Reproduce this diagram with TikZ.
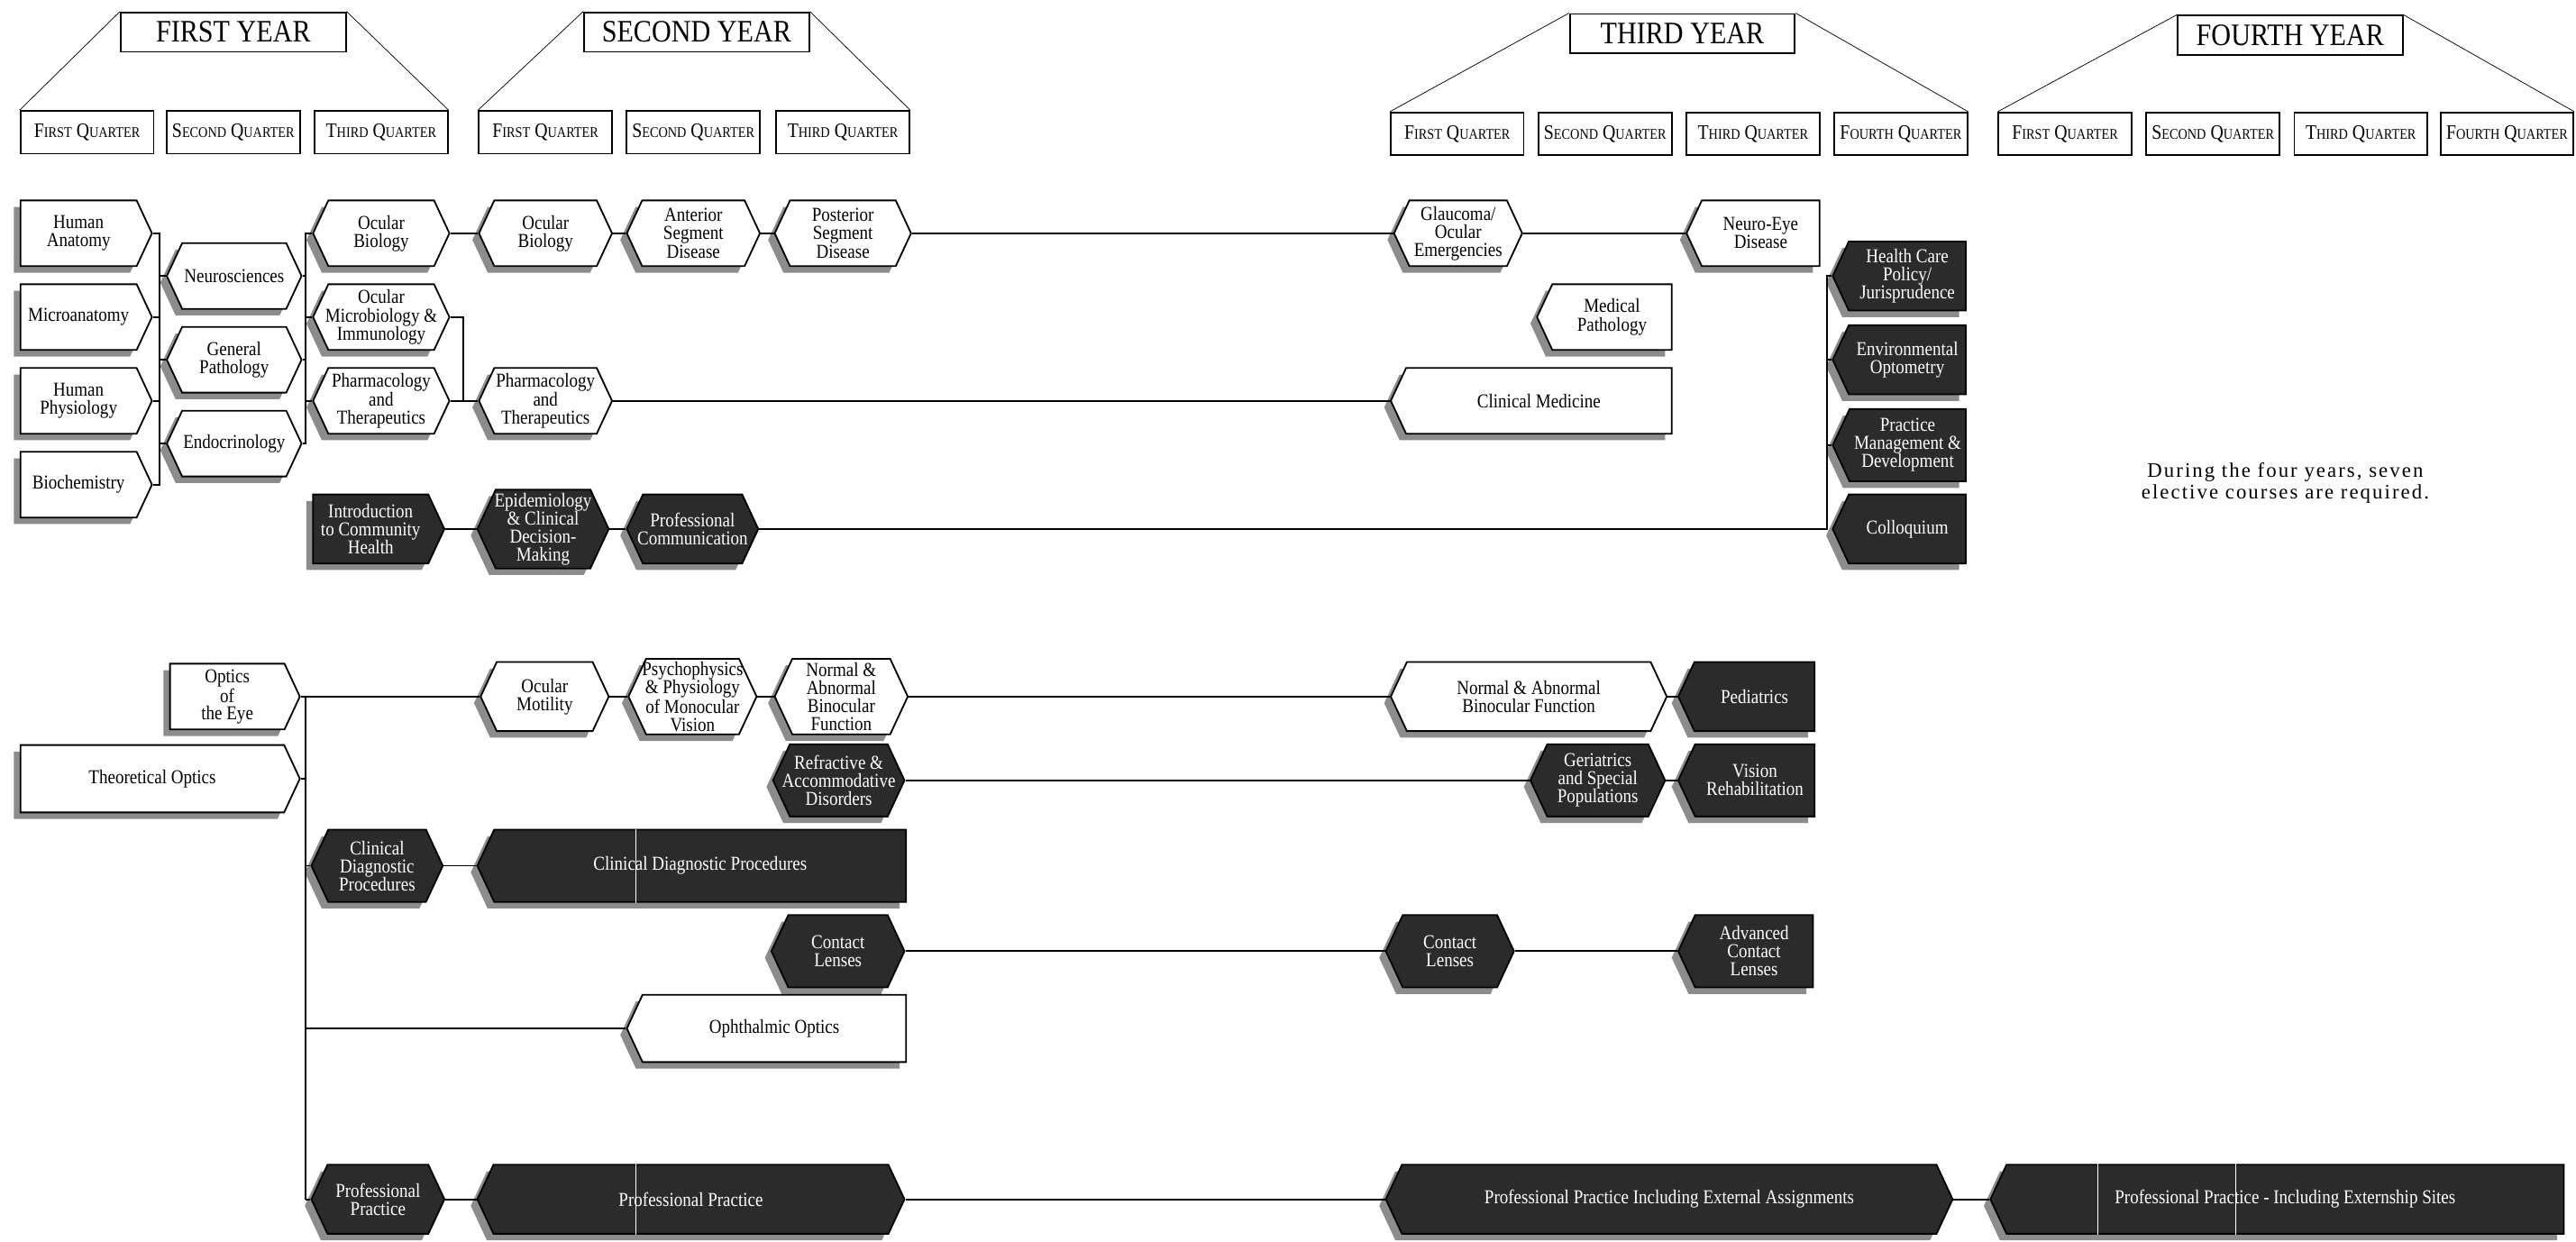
\documentclass[tikz,border=0pt]{standalone}
\usepackage{fontspec}
\setmainfont{Liberation Serif}[FakeStretch=0.87]
\newfontfamily\notefont{Liberation Serif}[LetterSpace=9]
\usetikzlibrary{positioning,shapes.symbols,shadows}
\definecolor{inkdark}{gray}{0.17}
\definecolor{shadowgray}{gray}{0.55}
\newcommand{\qname}[2]{#1{\fontsize{9}{10}\selectfont #2}}

\begin{document}
\begin{tikzpicture}[
    x=1pt, y=-1pt,
    every node/.style={align=center},
    course/.style={shape=signal, signal pointer angle=130, draw, line width=1pt,
        fill=white, anchor=west, inner xsep=-6pt, inner ysep=0pt,
        minimum height=40, font=\fontsize{12}{11}\selectfont,
        drop shadow={shadow xshift=-4pt, shadow yshift=-4pt, fill=shadowgray, opacity=1}},
    dark/.style={course, fill=inkdark, text=white},
    arrowR/.style={signal to=east},
    arrowL/.style={signal to=west},
    hexa/.style={signal to=east and west},
    qbox/.style={draw, line width=1pt, anchor=north west, minimum width=81,
        minimum height=26, inner sep=0pt, font=\fontsize{12.5}{13}\selectfont},
    yearbox/.style={draw, line width=1pt, anchor=north west, minimum width=137,
        minimum height=24, inner sep=0pt, font=\fontsize{19}{20}\selectfont},
    link/.style={line width=1pt},
    seam/.style={white, line width=0.6pt}
]
\useasboundingbox (0,0) rectangle (1568,756);

\node[yearbox] (yr1) at (73,7) {FIRST YEAR};
\node[qbox] (q11) at (12,67) {\qname{F}{IRST} \qname{Q}{UARTER}};
\node[qbox] (q12) at (101,67) {\qname{S}{ECOND} \qname{Q}{UARTER}};
\node[qbox] (q13) at (191,67) {\qname{T}{HIRD} \qname{Q}{UARTER}};
\node[yearbox] (yr2) at (355,7) {SECOND YEAR};
\node[qbox] (q21) at (291,67) {\qname{F}{IRST} \qname{Q}{UARTER}};
\node[qbox] (q22) at (381,67) {\qname{S}{ECOND} \qname{Q}{UARTER}};
\node[qbox] (q23) at (472,67) {\qname{T}{HIRD} \qname{Q}{UARTER}};
\node[yearbox] (yr3) at (955,8) {THIRD YEAR};
\node[qbox] (q31) at (846,68) {\qname{F}{IRST} \qname{Q}{UARTER}};
\node[qbox] (q32) at (936,68) {\qname{S}{ECOND} \qname{Q}{UARTER}};
\node[qbox] (q33) at (1026,68) {\qname{T}{HIRD} \qname{Q}{UARTER}};
\node[qbox] (q34) at (1116,68) {\qname{F}{OURTH} \qname{Q}{UARTER}};
\node[yearbox] (yr4) at (1325,9) {FOURTH YEAR};
\node[qbox] (q41) at (1216,68) {\qname{F}{IRST} \qname{Q}{UARTER}};
\node[qbox] (q42) at (1306,68) {\qname{S}{ECOND} \qname{Q}{UARTER}};
\node[qbox] (q43) at (1396,68) {\qname{T}{HIRD} \qname{Q}{UARTER}};
\node[qbox] (q44) at (1485,68) {\qname{F}{OURTH} \qname{Q}{UARTER}};

\draw (yr1.north west) -- (q11.north west) (yr1.north east) -- (q13.north east);
\draw (yr2.north west) -- (q21.north west) (yr2.north east) -- (q23.north east);
\draw (yr3.north west) -- (q31.north west) (yr3.north east) -- (q34.north east);
\draw (yr4.north west) -- (q41.north west) (yr4.north east) -- (q44.north east);

\node[course, arrowR, minimum width=80] (hanat) at (12,142) {Human\\Anatomy};
\node[course, arrowR, minimum width=80] (micro) at (12,193) {Microanatomy};
\node[course, arrowR, minimum width=80] (hphys) at (12,244) {Human\\Physiology};
\node[course, arrowR, minimum width=80] (biochem) at (12,295) {Biochemistry};
\node[course, hexa, minimum width=82] (neuro) at (101,168) {Neurosciences};
\node[course, hexa, minimum width=82] (genpath) at (101,219) {General\\Pathology};
\node[course, hexa, minimum width=82] (endo) at (101,270) {Endocrinology};
\node[course, hexa, minimum width=83] (ocbio) at (190,142) {Ocular\\Biology};
\node[course, hexa, minimum width=83] (ocmicro) at (190,193) {Ocular\\Microbiology \&\\Immunology};
\node[course, hexa, minimum width=83] (pharma) at (190,244) {Pharmacology\\and\\Therapeutics};
\node[course, hexa, minimum width=81] (ocbioii) at (291,142) {Ocular\\Biology};
\node[course, hexa, minimum width=81] (pharmb) at (291,244) {Pharmacology\\and\\Therapeutics};
\node[course, hexa, minimum width=81] (antseg) at (381,142) {Anterior\\Segment\\Disease};
\node[course, hexa, minimum width=83] (postseg) at (471,142) {Posterior\\Segment\\Disease};
\node[course, hexa, minimum width=78] (glauc) at (848,142) {Glaucoma/\\Ocular\\Emergencies};
\node[course, arrowL, minimum width=81] (neuroeye) at (1026,142) {Neuro-Eye\\Disease};
\node[course, arrowL, minimum width=82] (medpath) at (935,193) {Medical\\Pathology};
\node[course, arrowL, minimum width=171] (clinmed) at (846,244) {Clinical Medicine};
\node[dark, arrowL, minimum width=81, minimum height=42] (health) at (1115,168) {Health Care\\Policy/\\Jurisprudence};
\node[dark, arrowL, minimum width=81, minimum height=42] (envopt) at (1115,219) {Environmental\\Optometry};
\node[dark, arrowL, minimum width=81, minimum height=44] (pracman) at (1115,271) {Practice\\Management \&\\Development};
\node[dark, arrowL, minimum width=81, minimum height=42] (colloq) at (1115,322) {Colloquium};
\node[dark, arrowR, minimum width=80, minimum height=42] (intro) at (190,322) {Introduction\\to Community\\Health};
\node[dark, hexa, minimum width=80, minimum height=48] (epid) at (290,322) {Epidemiology\\\& Clinical\\Decision-\\Making};
\node[dark, hexa, minimum width=80, minimum height=42] (profcom) at (381,322) {Professional\\Communication};

\node[course, arrowR, minimum width=79, font=\fontsize{12}{10.5}\selectfont] (opteye) at (103,424) {Optics\\of\\the Eye};
\node[course, arrowR, minimum width=170, minimum height=41] (theo) at (12,474) {Theoretical Optics};
\node[course, hexa, minimum width=78, minimum height=42] (ocmot) at (292,424) {Ocular\\Motility};
\node[course, hexa, minimum width=78, minimum height=46] (psycho) at (382,424) {Psychophysics\\\& Physiology\\of Monocular\\Vision};
\node[course, hexa, minimum width=81, minimum height=46] (nabfa) at (471,424) {Normal \&\\Abnormal\\Binocular\\Function};
\node[course, hexa, minimum width=168, minimum height=42] (nabfb) at (846,424) {Normal \& Abnormal\\Binocular Function};
\node[dark, arrowL, minimum width=83, minimum height=42] (pediat) at (1021,424) {Pediatrics};
\node[dark, hexa, minimum width=80, minimum height=44] (refract) at (470,475) {Refractive \&\\Accommodative\\Disorders};
\node[dark, hexa, minimum width=82, minimum height=44] (geriat) at (931,475) {Geriatrics\\and Special\\Populations};
\node[dark, arrowL, minimum width=83, minimum height=44] (visrehab) at (1021,475) {Vision\\Rehabilitation};
\node[dark, hexa, minimum width=80, minimum height=44] (cdpa) at (189,527) {Clinical\\Diagnostic\\Procedures};
\node[dark, arrowL, minimum width=261, minimum height=44] (cdpb) at (290,527) {Clinical Diagnostic Procedures};
\node[dark, hexa, minimum width=81, minimum height=44] (cla) at (469,579) {Contact\\Lenses};
\node[dark, hexa, minimum width=78, minimum height=44] (clb) at (843,579) {Contact\\Lenses};
\node[dark, arrowL, minimum width=82, minimum height=44] (acl) at (1021,579) {Advanced\\Contact\\Lenses};
\node[course, arrowL, minimum width=170, minimum height=41] (ophth) at (381,626) {Ophthalmic Optics};
\node[dark, hexa, minimum width=81, minimum height=42] (ppa) at (189,730) {Professional\\Practice};
\node[dark, hexa, minimum width=260, minimum height=42] (ppb) at (290,730) {Professional Practice};
\node[dark, hexa, minimum width=345, minimum height=42] (ppc) at (843,730) {Professional Practice Including External Assignments};
\node[dark, arrowL, minimum width=349, minimum height=42] (ppd) at (1211,730) {Professional Practice - Including Externship Sites};

\node[font=\notefont\fontsize{12.5}{13.5}\selectfont] (elect) at (1391,294) {During the four years, seven\\elective courses are required.};

\coordinate (busa) at (97,0);
\coordinate (busb) at (186,0);
\coordinate (busc) at (282,0);
\coordinate (busd) at (1112,0);
\coordinate (buse) at (186,0);

\draw[link] (hanat.east) -- (hanat.east -| busa) -- (biochem.east -| busa) -- (biochem.east);
\draw[link] (micro.east) -- (micro.east -| busa);
\draw[link] (hphys.east) -- (hphys.east -| busa);
\foreach \n in {neuro,genpath,endo}
    \draw[link] (\n.west -| busa) -- (\n.west);

\draw[link] (ocbio.west) -- (ocbio.west -| busb) -- (endo.east -| busb) -- (endo.east);
\draw[link] (neuro.east) -- (neuro.east -| busb);
\draw[link] (genpath.east) -- (genpath.east -| busb);
\draw[link] (ocmicro.west -| busb) -- (ocmicro.west);
\draw[link] (pharma.west -| busb) -- (pharma.west);
\draw[link] (ocmicro.east) -- (ocmicro.east -| busc) -- (pharma.east -| busc);

\foreach \a/\b in {ocbio/ocbioii, ocbioii/antseg, antseg/postseg, postseg/glauc,
    glauc/neuroeye, pharma/pharmb, pharmb/clinmed, intro/epid, epid/profcom,
    opteye/ocmot, ocmot/psycho, psycho/nabfa, nabfa/nabfb, nabfb/pediat,
    refract/geriat, geriat/visrehab, cdpa/cdpb, cla/clb, clb/acl,
    ppa/ppb, ppb/ppc, ppc/ppd}
    \draw[link] (\a.east) -- (\b.west);

\draw[link] (profcom.east) -- (profcom.east -| busd) -- (health.west -| busd) -- (health.west);
\foreach \n in {envopt,pracman}
    \draw[link] (\n.west -| busd) -- (\n.west);

\draw[link] (opteye.east -| buse) -- (ppa.west -| buse);
\draw[link] (theo.east) -- (theo.east -| buse);
\foreach \n in {cdpa,ophth,ppa}
    \draw[link] (\n.west -| buse) -- (\n.west);

\coordinate (s1) at (387,0);
\coordinate (s2) at (1277,0);
\coordinate (s3) at (1361,0);
\draw[seam] (s1 |- cdpb.north) -- (s1 |- cdpb.south);
\draw[seam] (s1 |- ppb.north) -- (s1 |- ppb.south);
\draw[seam] (s2 |- ppd.north) -- (s2 |- ppd.south);
\draw[seam] (s3 |- ppd.north) -- (s3 |- ppd.south);

\end{tikzpicture}
\end{document}
